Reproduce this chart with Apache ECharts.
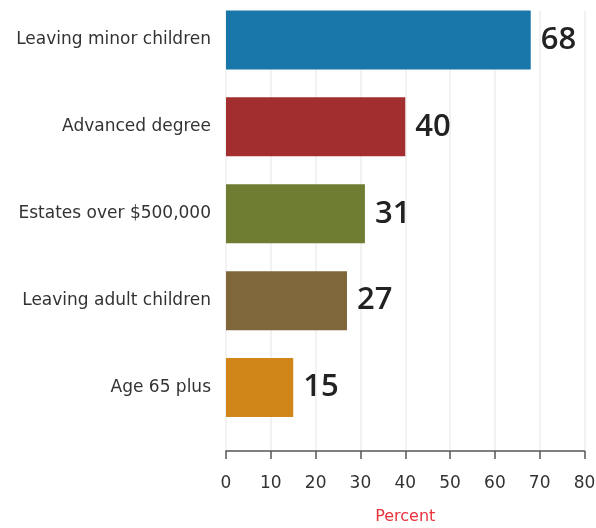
<!DOCTYPE html>
<html>
<head>
<meta charset="utf-8">
<script src="https://cdn.jsdelivr.net/npm/echarts@6/dist/echarts.min.js"></script>
<style>html,body{margin:0;padding:0;background:#fff;}#c{width:596px;height:528px;}</style>
</head>
<body>
<div id="c"></div>
<script>
const categories = ["Leaving minor children", "Advanced degree", "Estates over $500,000", "Leaving adult children", "Age 65 plus"];
const values = [68, 40, 31, 27, 15];
const barColors = ["#1877a8", "#a22e30", "#6f7d33", "#80663b", "#d1861a"];
const xTicks = [0, 10, 20, 30, 40, 50, 60, 70, 80];
const axisName = "Percent";

const chart = echarts.init(document.getElementById('c'), null, {renderer: 'canvas'});
const xMin = xTicks[0], xMax = xTicks[xTicks.length - 1], xStep = xTicks[1] - xTicks[0];
const labelFont = '"DejaVu Sans", sans-serif';
chart.setOption({
  animation: false,
  backgroundColor: '#fff',
  grid: [
    {left: 226, right: 11.5, top: -3.5, bottom: 97, containLabel: false, outerBoundsMode: 'none'},
    {left: 226, right: 11.5, top: 11, bottom: 77, containLabel: false, outerBoundsMode: 'none'}
  ],
  xAxis: [
    {gridIndex: 0, type: 'value', min: xMin, max: xMax, interval: xStep, show: false, splitLine: {show: false}},
    {gridIndex: 1, type: 'value', min: xMin, max: xMax, interval: xStep, z: 0,
     axisLine: {show: true, lineStyle: {color: '#555', width: 1.5}},
     axisTick: {show: true, length: 8, lineStyle: {color: '#555', width: 1.5}},
     axisLabel: {color: '#333', fontSize: 17, fontFamily: labelFont, margin: 24},
     splitLine: {show: true, lineStyle: {color: '#eeeeee', width: 1.5}},
     name: axisName, nameLocation: 'middle', nameGap: 58,
     nameTextStyle: {color: '#e8333c', fontSize: 16, fontFamily: labelFont}}
  ],
  yAxis: [
    {gridIndex: 0, type: 'category', data: categories, inverse: true,
     axisLine: {show: false}, axisTick: {show: false},
     axisLabel: {color: '#333', fontSize: 17, fontFamily: labelFont, margin: 15}},
    {gridIndex: 1, type: 'value', show: false}
  ],
  series: [{
    type: 'bar', xAxisIndex: 0, yAxisIndex: 0, z: 5,
    data: values.map((v, i) => ({value: v, itemStyle: {color: barColors[i]}})),
    barWidth: 59,
    label: {show: true, position: 'right', distance: 10, color: '#222',
      fontSize: 31, fontWeight: 600, fontFamily: '"Open Sans", sans-serif'}
  }]
});
</script>
</body>
</html>
